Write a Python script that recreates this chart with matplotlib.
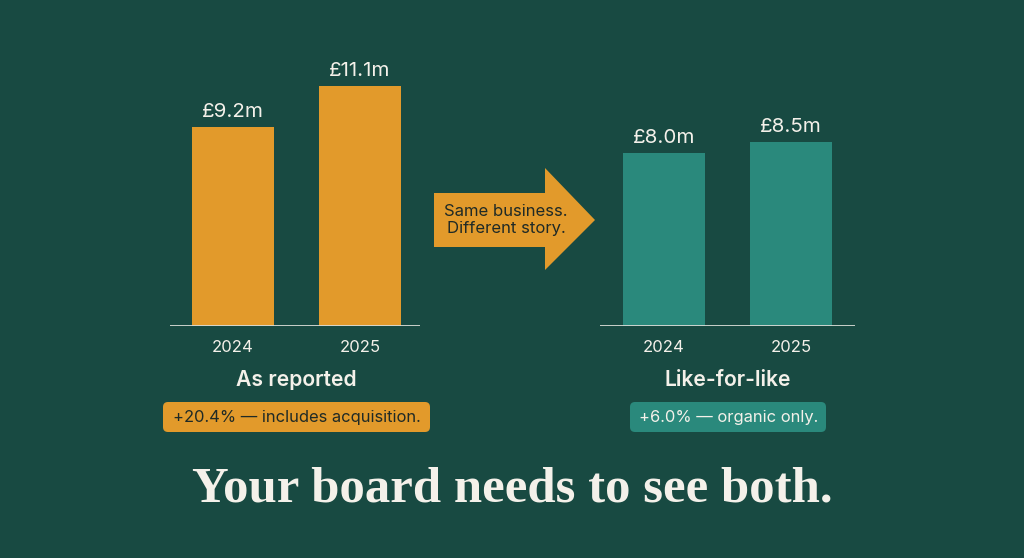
import matplotlib.pyplot as plt
from matplotlib.patches import Polygon, FancyBboxPatch

years = ['2024', '2025']
reported = [9.2, 11.1]
like_for_like = [8.0, 8.5]
reported_labels = ['£9.2m', '£11.1m']
lfl_labels = ['£8.0m', '£8.5m']
panel_titles = ['As reported', 'Like-for-like']
notes = ['+20.4% — includes acquisition.', '+6.0% — organic only.']
arrow_text = 'Same business.\nDifferent story.'
headline = 'Your board needs to see both.'

BG = '#184a42'
ORANGE = '#e29a2b'
TEAL = '#2a897c'
WHITE = '#f4f1ea'
DARK = '#1f2a26'

plt.rcParams['font.family'] = ['Inter', 'DejaVu Sans']

W, H = 1024, 558
fig = plt.figure(figsize=(W / 100, H / 100), dpi=100, facecolor=BG)


def px_axes(x0, x1, y_base, y_top):
    # pixel box (top-left origin) -> figure axes
    return fig.add_axes([x0 / W, (H - y_base) / H, (x1 - x0) / W, (y_base - y_top) / H])


def draw_panel(ax, values, labels, color, xlim):
    ax.set_facecolor('none')
    ax.bar(range(len(values)), values, width=0.646, color=color)
    for i, (v, lab) in enumerate(zip(values, labels)):
        ax.text(i, v + 0.25, lab, ha='center', va='bottom', color=WHITE, fontsize=14.8)
    ax.axhline(0, color='#d8dcd6', lw=1.3)
    ax.set_xlim(*xlim)
    ax.set_ylim(0, 12)
    ax.set_xticks(range(len(values)))
    ax.set_xticklabels(years, color=WHITE, fontsize=12)
    ax.tick_params(axis='x', length=0, pad=10)
    ax.set_yticks([])
    for s in ax.spines.values():
        s.set_visible(False)


# 12 units over 260 px -> baseline at y=326
ax1 = px_axes(170, 420, 326, 66)
draw_panel(ax1, reported, reported_labels, ORANGE, (-0.496, 1.472))
ax2 = px_axes(600, 855, 326, 66)
draw_panel(ax2, like_for_like, lfl_labels, TEAL, (-0.504, 1.504))

# overlay in pixel coordinates for annotations
ov = fig.add_axes([0, 0, 1, 1], facecolor='none')
ov.set_xlim(0, W)
ov.set_ylim(H, 0)
ov.axis('off')

ov.text(296, 380, panel_titles[0], ha='center', va='center', color=WHITE,
        fontsize=15.2, fontweight='semibold')
ov.text(728, 380, panel_titles[1], ha='center', va='center', color=WHITE,
        fontsize=15.2, fontweight='semibold')

ov.add_patch(FancyBboxPatch((163, 402), 267, 30, boxstyle='round,pad=0,rounding_size=5',
                            fc=ORANGE, ec='none'))
ov.text(296.5, 417.5, notes[0], ha='center', va='center', color=DARK, fontsize=11.9)
ov.add_patch(FancyBboxPatch((630, 402), 196, 30, boxstyle='round,pad=0,rounding_size=5',
                            fc=TEAL, ec='none'))
ov.text(728.5, 417.5, notes[1], ha='center', va='center', color=WHITE, fontsize=11.9)

arrow = [(434, 193), (545, 193), (545, 168), (595, 220), (545, 270),
         (545, 247), (434, 247)]
ov.add_patch(Polygon(arrow, closed=True, fc=ORANGE, ec='none'))
ov.text(506, 220, arrow_text, ha='center', va='center', color=DARK,
        fontsize=12, linespacing=1.15)

ov.text(512, 489, headline, ha='center', va='center', color=WHITE,
        fontsize=36.6, fontweight='bold', family=['Liberation Serif', 'DejaVu Serif'])

fig.savefig('out.png', dpi=100, facecolor=BG)
